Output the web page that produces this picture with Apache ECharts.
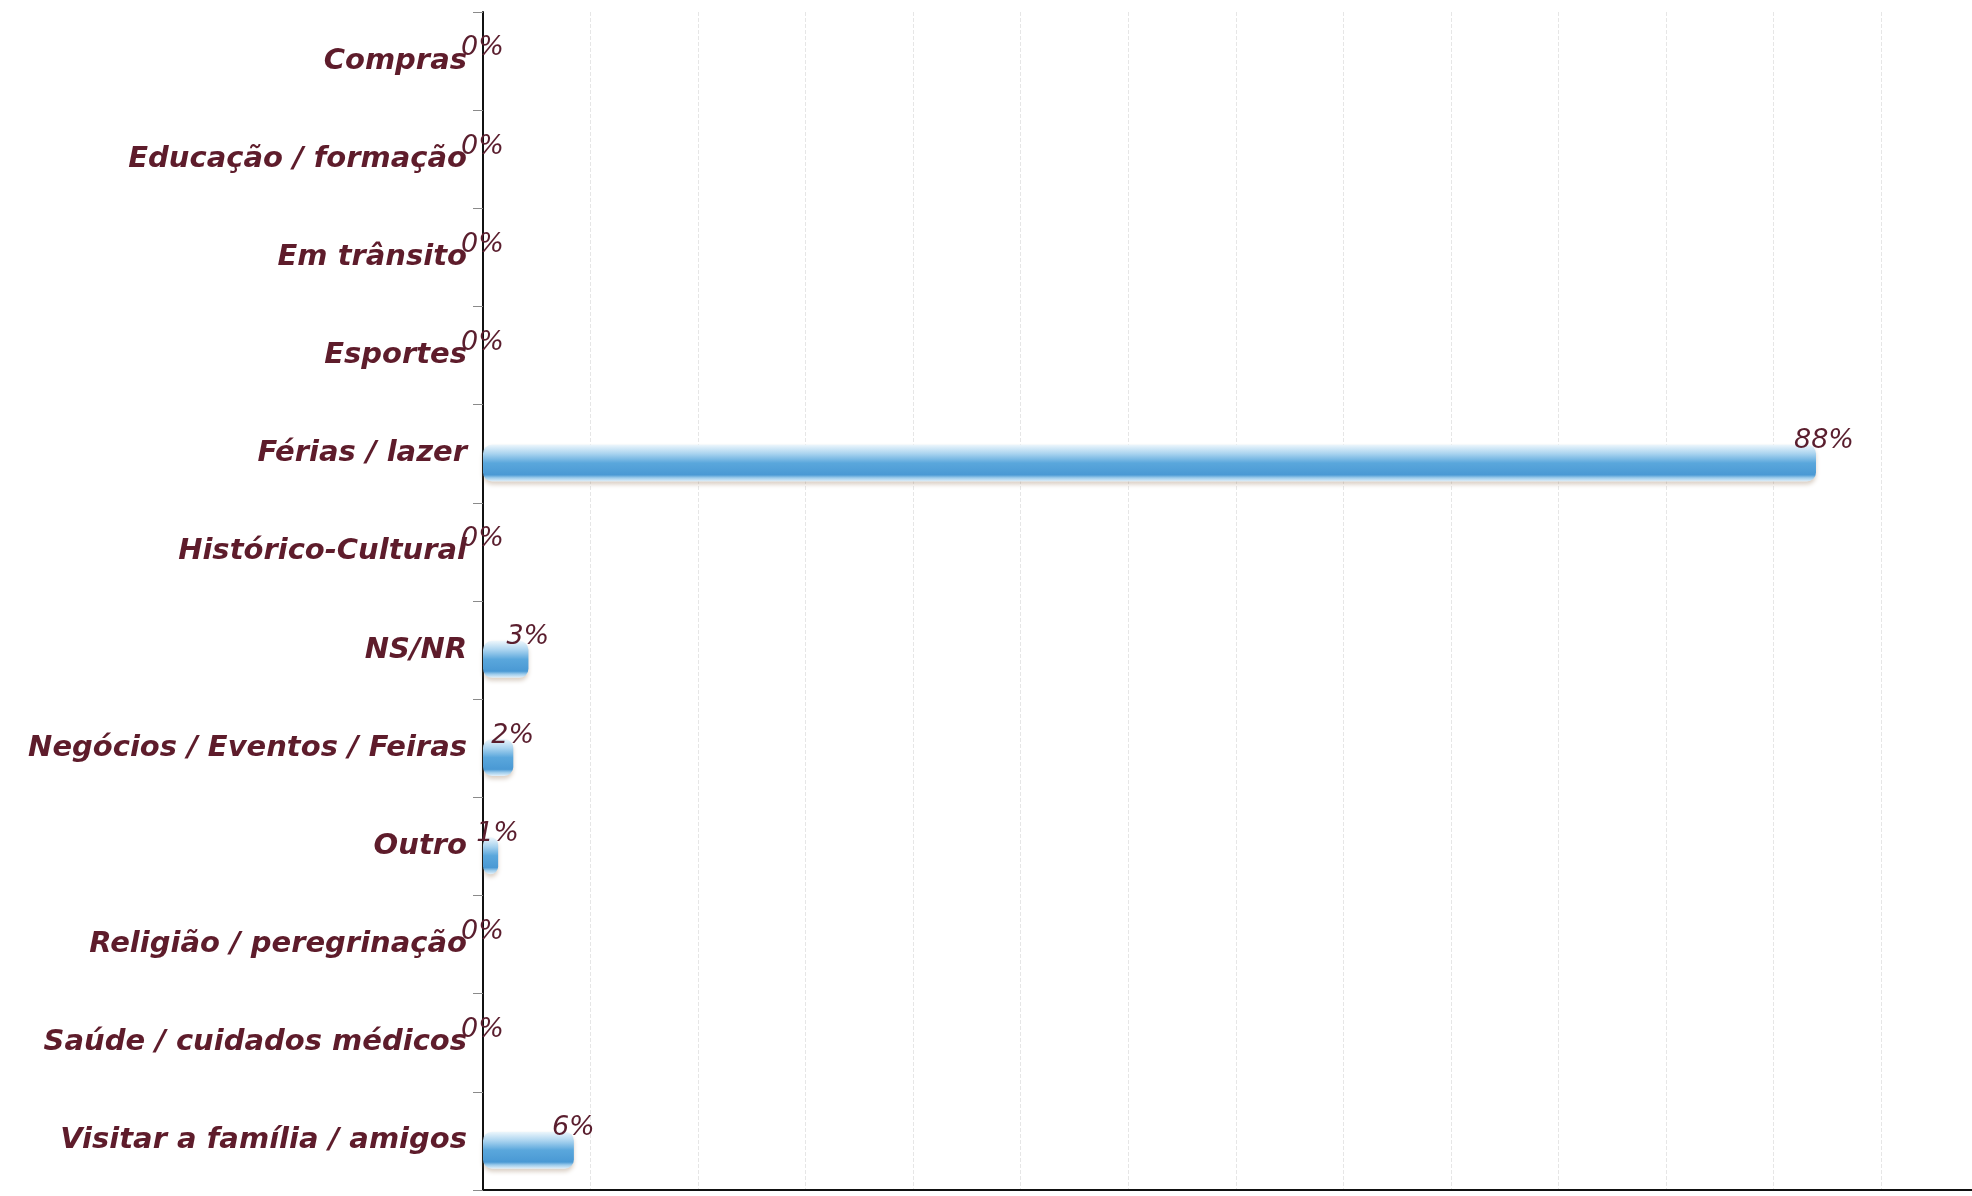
<!DOCTYPE html>
<html><head><meta charset="utf-8">
<script src="https://cdn.jsdelivr.net/npm/echarts@6/dist/echarts.min.js"></script>
<style>html,body{margin:0;padding:0;background:#fff}#c{width:1972px;height:1196px}</style>
</head><body><div id="c"></div>
<script>
var categories = ['Compras','Educação / formação','Em trânsito','Esportes','Férias / lazer','Histórico-Cultural','NS/NR','Negócios / Eventos / Feiras','Outro','Religião / peregrinação','Saúde / cuidados médicos','Visitar a família / amigos'];
var values = [0,0,0,0,88,0,3,2,1,0,0,6];
var placeholder = categories.map(function(){return '-';});

var chart = echarts.init(document.getElementById('c'));
chart.setOption({
  backgroundColor:'#ffffff',
  animation:false,
  grid:{left:483, right:0, top:12, bottom:6, containLabel:false},
  xAxis:{type:'value', min:0, max:98.3, interval:7.1,
    axisLine:{show:true, onZero:false, lineStyle:{color:'#111', width:2}},
    axisTick:{show:false}, axisLabel:{show:false},
    splitLine:{show:true, lineStyle:{color:'#e6e6e6', type:'dashed', width:1}}},
  yAxis:{type:'category', data:categories, inverse:true,
    axisLine:{show:true, lineStyle:{color:'#111', width:2}},
    axisTick:{show:true, length:10, lineStyle:{color:'#8a8a8a'}},
    axisLabel:{margin:16, color:'#5e1c2b', fontFamily:'DejaVu Sans', fontStyle:'italic', fontWeight:'bold', fontSize:29}},
  series:[
    {type:'bar', data:placeholder, barWidth:37, silent:true},
    {type:'bar', data:values, barWidth:37, barGap:'-50%',
     itemStyle:{
       borderRadius:9,
       shadowColor:'rgba(150,120,90,0.35)', shadowBlur:4, shadowOffsetY:3,
       color:new echarts.graphic.LinearGradient(0,0,0,1,[
         {offset:0,color:'#eef7fc'},
         {offset:0.25,color:'#a9d3ef'},
         {offset:0.5,color:'#5aa7dc'},
         {offset:0.82,color:'#4a99d4'},
         {offset:0.9,color:'#9ccbeb'},
         {offset:1,color:'#e4f1fa'}])
     },
     label:{show:true, position:'right', distance:0, offset:[-22,-22],
       formatter:function(p){return p.value+'%';},
       color:'#5a1e2e', fontFamily:'DejaVu Sans', fontStyle:'italic', fontSize:27}}
  ]
});
</script></body></html>
